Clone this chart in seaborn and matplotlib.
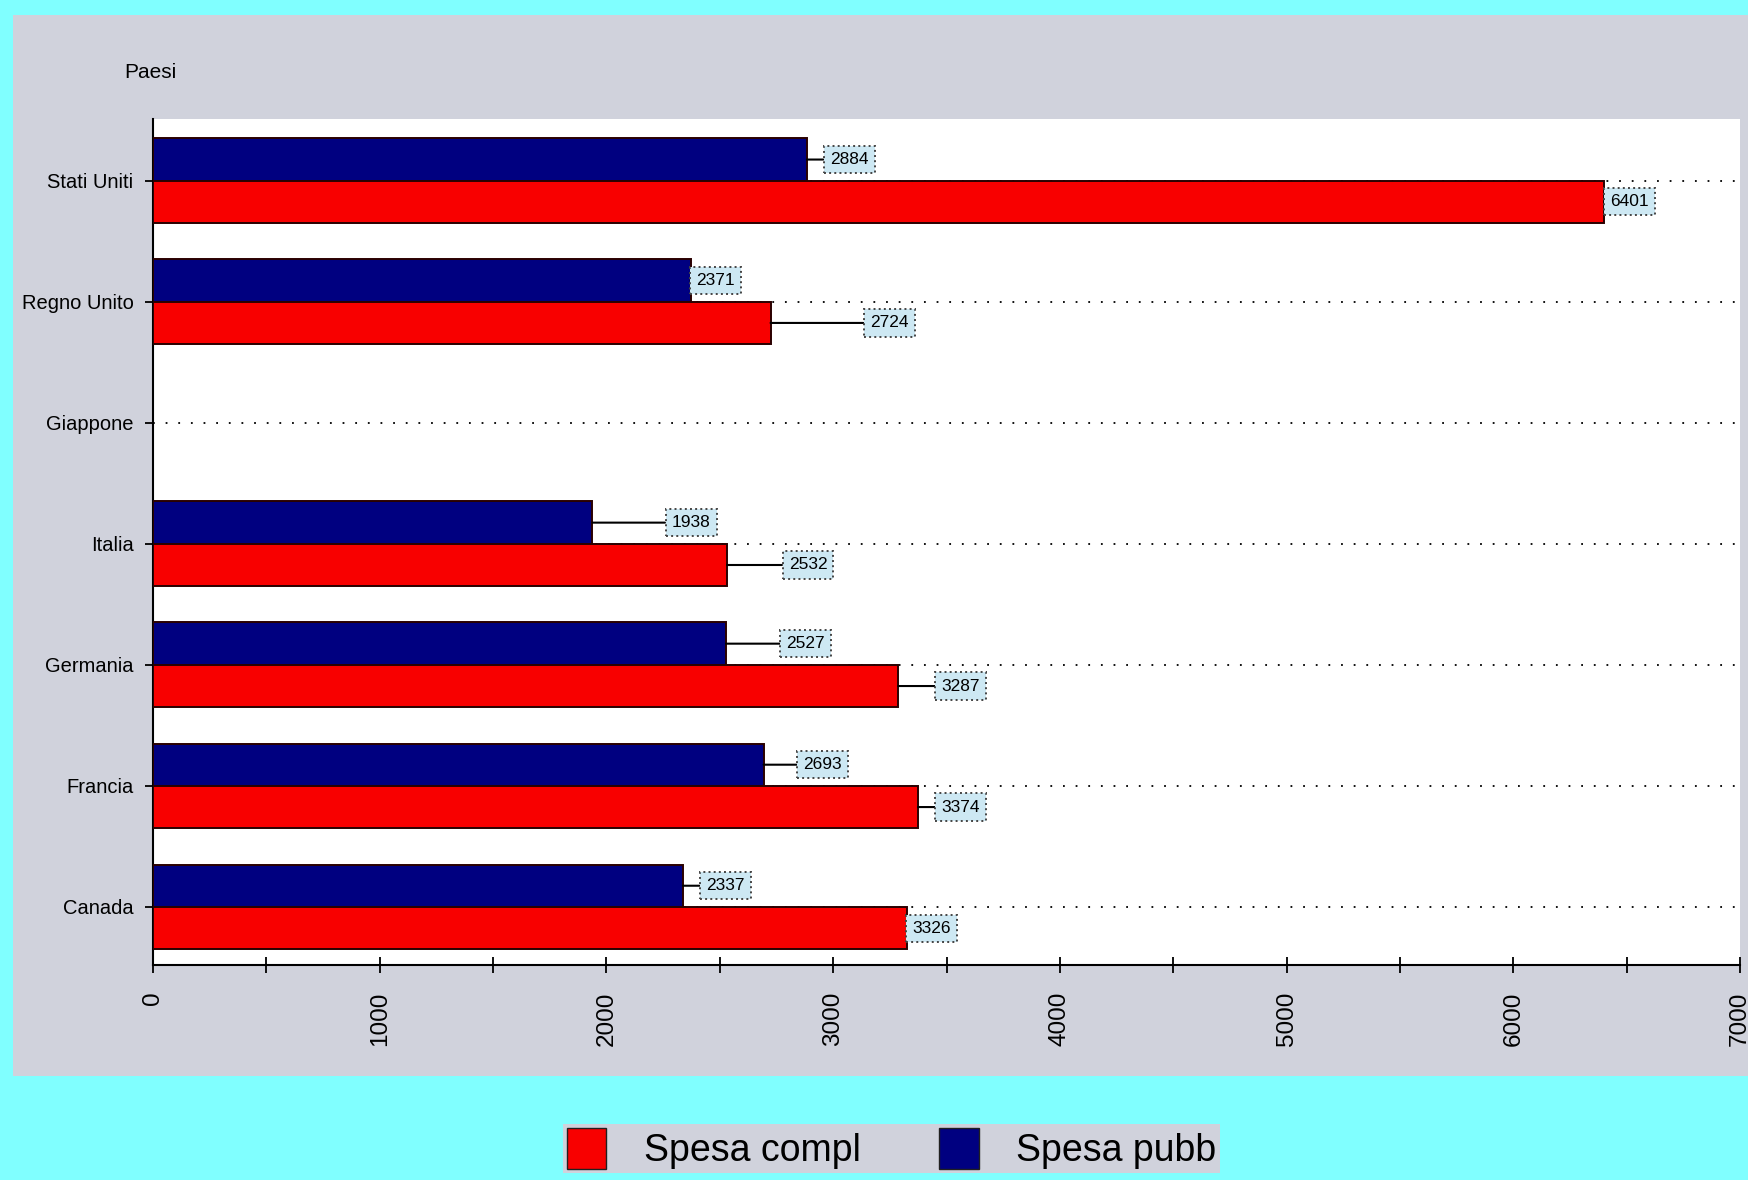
import numpy as np
import pandas as pd
import matplotlib
matplotlib.use("Agg")
import matplotlib.pyplot as plt
import seaborn as sns
from matplotlib.patches import Rectangle, Patch
from matplotlib.ticker import MultipleLocator
from matplotlib import font_manager

# ---- data ----
countries = ['Stati Uniti', 'Regno Unito', 'Giappone', 'Italia', 'Germania', 'Francia', 'Canada']
spesa_compl = [6401, 2724, np.nan, 2532, 3287, 3374, 3326]
spesa_pubb = [2884, 2371, np.nan, 1938, 2527, 2693, 2337]
series_names = ['Spesa compl', 'Spesa pubb']
x_ticks = [0, 1000, 2000, 3000, 4000, 5000, 6000, 7000]

# label gaps (layout, data units from bar end to label box)
gap_compl = [8, 419, np.nan, 252, 171, 84, 4]
gap_pubb = [82, 5, np.nan, 330, 247, 155, 83]

df = pd.DataFrame({
    'Paese': countries * 2,
    'Serie': ['Spesa pubb'] * len(countries) + ['Spesa compl'] * len(countries),
    'Valore': spesa_pubb + spesa_compl,
})

colors = {'Spesa compl': '#F80000', 'Spesa pubb': '#000080'}
avail = {f.name for f in font_manager.fontManager.ttflist}
narrow = [f for f in ['Liberation Sans Narrow', 'Liberation Sans', 'DejaVu Sans'] if f in avail]
is_narrow = 'Liberation Sans Narrow' in avail
plt.rcParams['font.family'] = narrow

W, H = 1749, 1180
fig = plt.figure(figsize=(W / 100, H / 100), dpi=100)
fig.patch.set_facecolor('#80FFFF')
bg = Rectangle((13 / W, 1 - 1076 / H), 1, (1076 - 15) / H,
               transform=fig.transFigure, facecolor='#D0D2DC',
               edgecolor='none', zorder=-10)
fig.add_artist(bg)

ax = fig.add_axes([153 / W, 1 - 965 / H, (1740 - 153) / W, (965 - 119) / H])
ax.set_zorder(1)
ax.set_facecolor('white')

sns.barplot(data=df, y='Paese', x='Valore', hue='Serie', order=countries,
            hue_order=['Spesa pubb', 'Spesa compl'], palette=colors,
            saturation=1, orient='h', width=0.7, errorbar=None, ax=ax,
            legend=False, edgecolor='#2a0000', linewidth=1.4, zorder=3)

ax.set_xlim(0, 7000)
ax.set_ylim(6.48, -0.51)
ax.set_xlabel('')
ax.set_ylabel('')

ax.set_axisbelow(True)
ax.yaxis.grid(True, linestyle=(0, (1, 6)), color='black', linewidth=1.3)
ax.xaxis.grid(False)

for s in ['top', 'right']:
    ax.spines[s].set_visible(False)
for s in ['left', 'bottom']:
    ax.spines[s].set_color('black')
    ax.spines[s].set_linewidth(1.5)

ytick_size = 17 if is_narrow else 14.5
ax.set_xticks(x_ticks)
ax.set_xticklabels([str(t) for t in x_ticks], rotation=90, fontsize=17.5, va='top')
ax.xaxis.set_minor_locator(MultipleLocator(500))
ax.tick_params(axis='x', which='both', direction='inout', length=12, width=1.3,
               pad=13, colors='black')
ax.tick_params(axis='y', which='major', direction='out', length=6, width=1.3,
               pad=8, labelsize=ytick_size, colors='black')

gaps = {'Spesa compl': gap_compl, 'Spesa pubb': gap_pubb}
lab_size = 13 if is_narrow else 12.5
for cont, name in zip(ax.containers, ['Spesa pubb', 'Spesa compl']):
    for bar in cont:
        w = bar.get_width()
        if not np.isfinite(w) or w == 0:
            continue
        yc = bar.get_y() + bar.get_height() / 2
        idx = int(round(yc))
        g = gaps[name][idx]
        ax.annotate(f"{int(round(w))}", xy=(w, yc), xytext=(w + g + 20, yc),
                    textcoords='data', ha='left', va='center', fontsize=lab_size,
                    color='black', zorder=5,
                    bbox=dict(boxstyle='square,pad=0.35', facecolor='#CDE8F3',
                              edgecolor='#444444', linestyle=':', linewidth=1.4),
                    arrowprops=dict(arrowstyle='-', color='black', lw=1.5,
                                    shrinkA=0, shrinkB=0))

fig.text(150 / W, 1 - 72 / H, 'Paesi', ha='center', va='center', fontsize=15)

leg_size = 31 if is_narrow else 27
handles = [Patch(facecolor=colors[n], edgecolor='#202020', linewidth=1.0)
           for n in series_names]
leg = fig.legend(handles, series_names, loc='upper left',
                 bbox_to_anchor=(563 / W, 1 - 1124 / H), ncol=2,
                 frameon=True, fancybox=False, borderaxespad=0, borderpad=0.1,
                 handlelength=1.05, handleheight=1.3, handletextpad=1.0,
                 columnspacing=2.1, prop={'size': leg_size})
leg.get_frame().set_facecolor('#D0D2DC')
leg.get_frame().set_edgecolor('none')
leg.get_frame().set_alpha(1)

fig.savefig('out.png', dpi=100, facecolor=fig.get_facecolor())
